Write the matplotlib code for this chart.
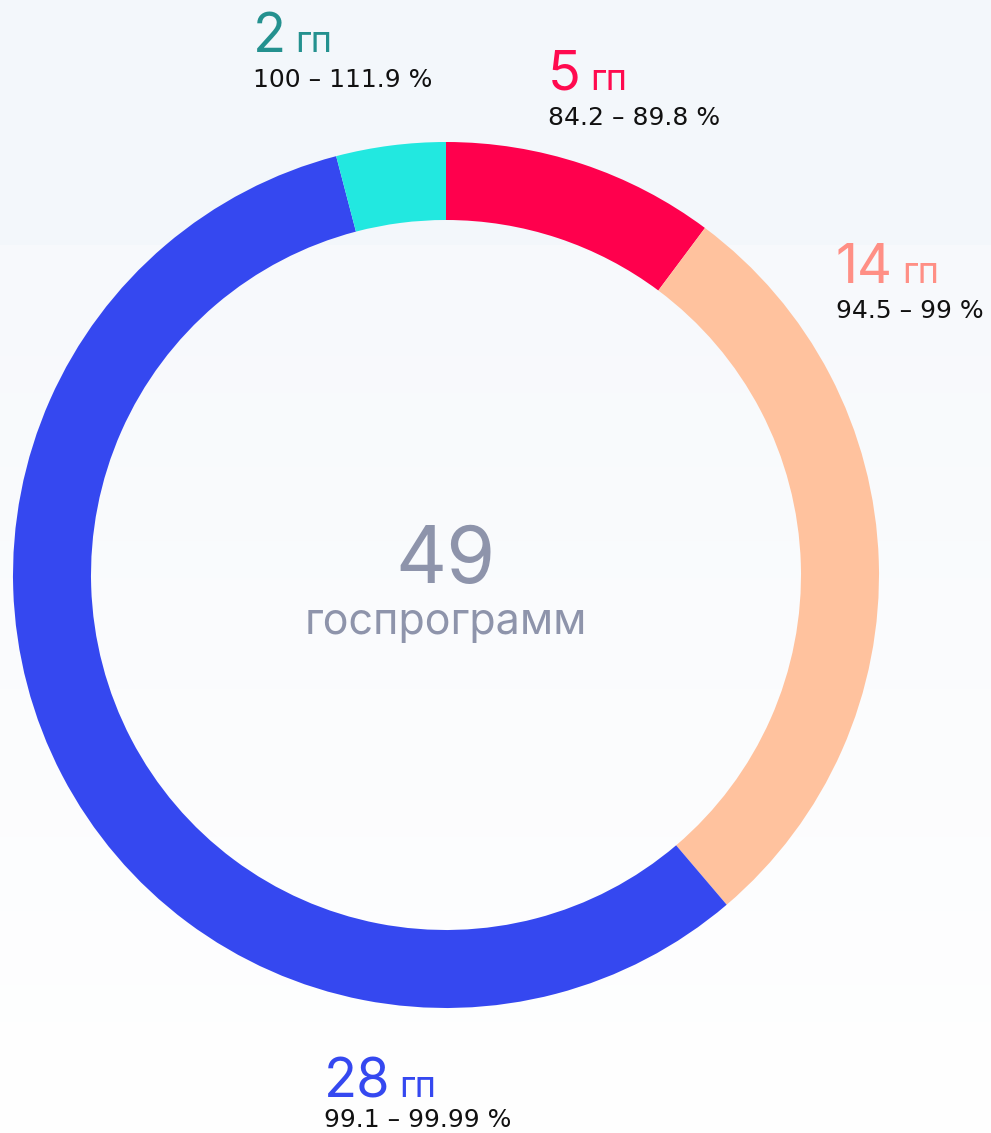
import numpy as np
import matplotlib.pyplot as plt
from matplotlib.colors import to_rgb

# Data
counts = [5, 14, 28, 2]
ranges = ['84.2 – 89.8 %', '94.5 – 99 %', '99.1 – 99.99 %', '100 – 111.9 %']
ring_colors = ['#FF004D', '#FFC29E', '#3548F0', '#22E8E0']
label_colors = ['#FF0A4F', '#FF8F85', '#3548F0', '#24918F']
total = sum(counts)
center_word = 'госпрограмм'
unit = 'гп'

W, H = 991, 1133
plt.rcParams['font.family'] = ['Inter', 'DejaVu Sans']

fig = plt.figure(figsize=(W / 100, H / 100), dpi=100)
ax = fig.add_axes([0, 0, 1, 1])

# background: light band on top, soft gradient below
top = np.array(to_rgb('#F3F7FB'))
mid = np.array(to_rgb('#F7F9FC'))
bot = np.array(to_rgb('#FFFFFF'))
rows = np.zeros((H, 1, 3))
for i in range(H):
    if i < 245:
        rows[i, 0] = top
    else:
        t = (i - 245) / (H - 245)
        rows[i, 0] = mid * (1 - t) + bot * t
ax.imshow(rows, extent=[0, W, 0, H], aspect='auto', origin='upper', zorder=0)

cx, cy = 446, H - 575
ax.pie(counts, colors=ring_colors, startangle=90, counterclock=False,
       radius=433, center=(cx, cy), frame=True,
       wedgeprops=dict(width=78, linewidth=0))

ax.set_xlim(0, W)
ax.set_ylim(0, H)
ax.axis('off')

ax.text(cx, H - 583, str(total), fontsize=57, color='#8E94AB', ha='center', va='baseline')
ax.text(cx, H - 634, center_word, fontsize=31, color='#8E94AB', ha='center', va='baseline')

# label anchors (left x, baseline y of number, baseline y of range) in pixels from top
label_pos = [(548, 90, 125), (836, 283, 318), (324, 1097, 1127), (253, 52, 87)]

fig.canvas.draw()
renderer = fig.canvas.get_renderer()
for n, r, c, (x, y, y2) in zip(counts, ranges, label_colors, label_pos):
    t = ax.text(x, H - y, str(n), fontsize=39, color=c, ha='left', va='baseline')
    bb = t.get_window_extent(renderer)
    ax.text(bb.x1 + 9, H - y, unit, fontsize=26, color=c, ha='left', va='baseline')
    ax.text(x, H - y2, r, fontsize=18, color='#111111', ha='left', va='baseline',
            family='DejaVu Sans')

fig.savefig('out.png', dpi=100)
